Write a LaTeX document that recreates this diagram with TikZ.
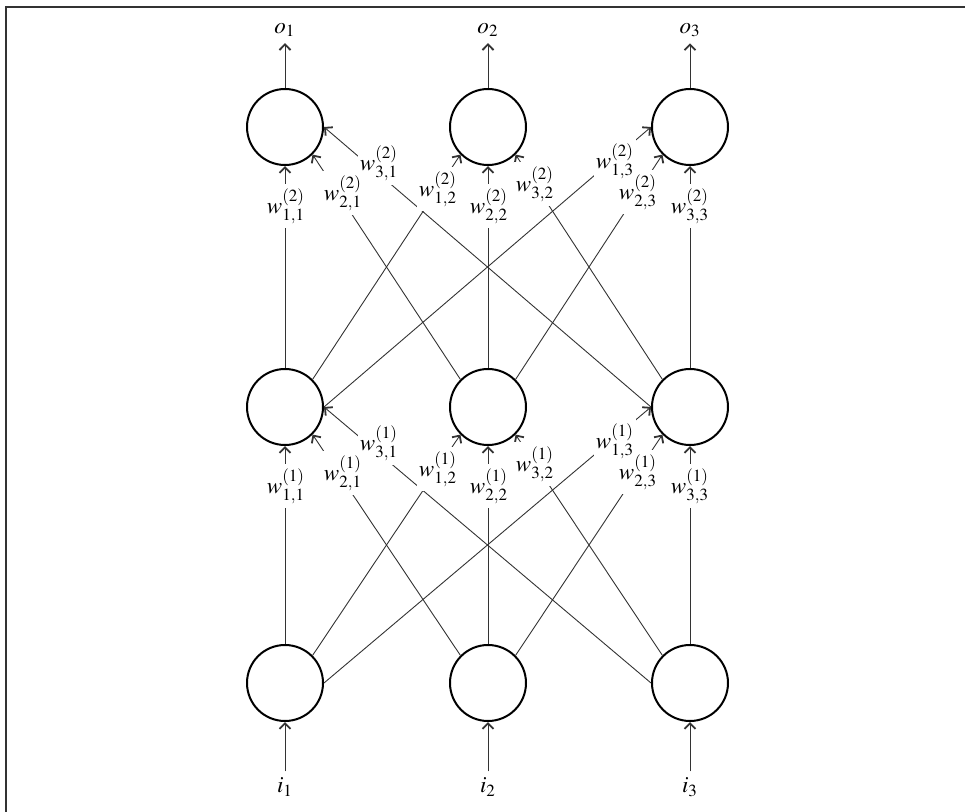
\documentclass[tikz,border=0pt]{standalone}
\usepackage{mathptmx}
\usetikzlibrary{arrows.meta}
\begin{document}
\begin{tikzpicture}[x=0.5pt,y=-0.5pt,
  neuron/.style={circle,draw=black,line width=1pt,minimum size=38pt,inner sep=0pt},
  conn/.style={draw=black!80,line width=0.45pt,-{Straight Barb[length=2.8pt,width=5.5pt,line width=0.9pt]}},
  wlab/.style={inner xsep=1pt,inner ysep=2pt,font=\fontsize{11.5}{13}\selectfont},
  wbox/.style={wlab,fill=white},
  io/.style={inner sep=3pt,font=\fontsize{11.5}{13}\selectfont},
  frame/.style={draw=black!80,line width=0.8pt}]
\useasboundingbox (0,0) rectangle (965,812);
\draw[frame] (965,7) -- (6,7) -- (6,812);
% neurons
\foreach \i/\x in {1/285,2/488,3/690} {
  \node[neuron] (t\i) at (\x,127) {};
  \node[neuron] (m\i) at (\x,407) {};
  \node[neuron] (b\i) at (\x,683) {};
  \node[io] (o\i) at (\x,30) {$o_{\i}$};
  \node[io] (i\i) at (\x,787) {$i_{\i}$};
  \draw[conn] (t\i.north) -- (o\i);
  \draw[conn] (i\i) -- (b\i.south);
}
% weighted connections
\foreach \layer/\lo/\hi in {1/b/m,2/m/t} {
  \foreach \j/\k/\sa/\ta in {1/1/north/south, 2/1/north west/south east, 3/1/west/east,
                             1/2/north east/south west, 2/2/north/south, 3/2/north west/south east,
                             1/3/east/west, 2/3/north east/south west, 3/3/north/south} {
    \draw[conn] (\lo\j.\sa) -- (\hi\k.\ta);
  }
}
% weight labels: white boxes first, then the texts
\foreach \layer/\hi in {1/m,2/t} {
  \foreach \j/\k/\dx/\dy in {1/1/1/79, 2/1/58/66, 3/1/94/36,
                             1/2/-50/62, 2/2/1/79, 3/2/47/57,
                             1/3/-75/34, 2/3/-52/65, 3/3/0/79} {
    \node[wbox] (w\layer\j\k) at ([shift={(\dx,\dy)}]\hi\k.center) {\phantom{$w^{(\layer)}_{\j,\k}$}};
  }
}
\foreach \layer in {1,2} {
  \foreach \j in {1,2,3} {
    \foreach \k in {1,2,3} {
      \node[wlab] (wt\layer\j\k) at (w\layer\j\k) {$w^{(\layer)}_{\j,\k}$};
    }
  }
}
\end{tikzpicture}
\end{document}
